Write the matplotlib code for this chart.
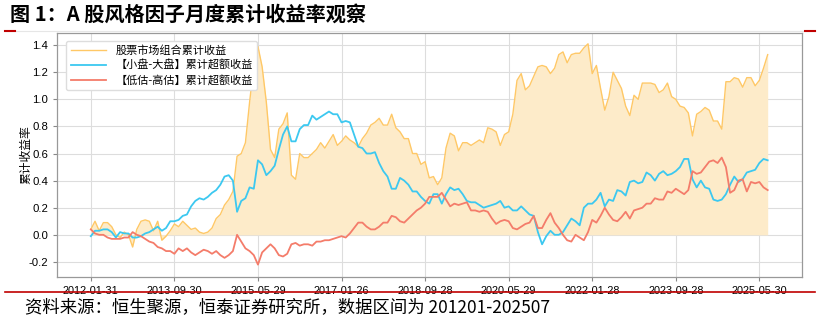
import matplotlib
matplotlib.use("Agg")
import matplotlib.pyplot as plt
from matplotlib.lines import Line2D
import numpy as np

plt.rcParams['font.family'] = ['Noto Sans CJK SC', 'DejaVu Sans']
plt.rcParams['axes.unicode_minus'] = False

# monthly cumulative returns, 2012-01 .. 2025-07
market = [0.04, 0.10, 0.03, 0.09, 0.09, 0.06, 0.00, -0.02, 0.02, 0.00,
          -0.09, 0.04, 0.10, 0.11, 0.10, 0.03, 0.10, -0.04, -0.01, 0.03,
          0.08, 0.06, 0.10, 0.07, 0.04, 0.05, 0.02, 0.01, 0.02, 0.05,
          0.12, 0.15, 0.22, 0.26, 0.32, 0.58, 0.60, 0.68, 0.98, 1.25,
          1.39, 1.24, 0.98, 0.63, 0.57, 0.78, 0.82, 0.90, 0.44, 0.41,
          0.60, 0.57, 0.57, 0.60, 0.63, 0.68, 0.64, 0.69, 0.74, 0.66,
          0.69, 0.73, 0.70, 0.68, 0.65, 0.71, 0.75, 0.81, 0.83, 0.86,
          0.81, 0.81, 0.89, 0.79, 0.76, 0.71, 0.71, 0.60, 0.60, 0.52,
          0.54, 0.42, 0.43, 0.37, 0.42, 0.64, 0.75, 0.73, 0.62, 0.68,
          0.68, 0.66, 0.68, 0.70, 0.68, 0.79, 0.78, 0.76, 0.66, 0.74,
          0.76, 0.89, 1.14, 1.19, 1.07, 1.10, 1.17, 1.24, 1.25, 1.24,
          1.19, 1.23, 1.33, 1.35, 1.27, 1.33, 1.34, 1.34, 1.38, 1.41,
          1.19, 1.25, 1.08, 0.92, 1.02, 1.20, 1.14, 1.08, 0.95, 0.88,
          1.03, 1.00, 1.12, 1.12, 1.12, 1.11, 1.05, 1.07, 1.12, 1.02,
          1.00, 0.95, 0.94, 0.90, 0.73, 0.89, 0.91, 0.94, 0.92, 0.84,
          0.84, 0.78, 1.13, 1.13, 1.16, 1.15, 1.09, 1.16, 1.16, 1.10,
          1.14, 1.23, 1.33]

small_big = [-0.01, 0.03, 0.03, 0.04, 0.04, 0.02, -0.02, 0.02, 0.01, 0.01,
             -0.02, -0.02, -0.01, 0.01, 0.02, 0.04, 0.06, 0.03, 0.05, 0.10,
             0.10, 0.11, 0.14, 0.15, 0.21, 0.25, 0.27, 0.26, 0.28, 0.31,
             0.33, 0.37, 0.43, 0.44, 0.40, 0.17, 0.25, 0.27, 0.35, 0.34,
             0.55, 0.52, 0.44, 0.47, 0.51, 0.63, 0.74, 0.80, 0.69, 0.69,
             0.78, 0.81, 0.81, 0.88, 0.85, 0.87, 0.89, 0.91, 0.89, 0.89,
             0.83, 0.84, 0.83, 0.74, 0.65, 0.64, 0.60, 0.60, 0.61, 0.53,
             0.47, 0.43, 0.34, 0.34, 0.42, 0.40, 0.37, 0.32, 0.32, 0.28,
             0.25, 0.23, 0.30, 0.30, 0.23, 0.30, 0.35, 0.33, 0.34, 0.30,
             0.25, 0.24, 0.24, 0.22, 0.20, 0.21, 0.22, 0.23, 0.25, 0.20,
             0.21, 0.18, 0.18, 0.21, 0.18, 0.15, 0.14, 0.02, -0.07, -0.01,
             0.03, 0.00, 0.00, 0.02, 0.07, 0.12, 0.10, 0.07, 0.20, 0.23,
             0.23, 0.26, 0.31, 0.21, 0.26, 0.25, 0.33, 0.32, 0.29, 0.39,
             0.40, 0.38, 0.39, 0.46, 0.44, 0.40, 0.45, 0.47, 0.44, 0.45,
             0.47, 0.50, 0.56, 0.56, 0.41, 0.35, 0.40, 0.35, 0.34, 0.26,
             0.25, 0.26, 0.30, 0.37, 0.43, 0.39, 0.41, 0.46, 0.47, 0.48,
             0.53, 0.56, 0.55]

low_high = [0.04, 0.01, 0.00, 0.00, -0.02, -0.03, -0.03, -0.03, -0.02, -0.02,
            0.02, 0.00, -0.01, -0.03, -0.05, -0.06, -0.09, -0.10, -0.12, -0.12,
            -0.14, -0.10, -0.12, -0.10, -0.13, -0.15, -0.13, -0.11, -0.12, -0.14,
            -0.12, -0.15, -0.17, -0.15, -0.12, 0.00, -0.05, -0.10, -0.12, -0.15,
            -0.22, -0.13, -0.10, -0.07, -0.10, -0.15, -0.16, -0.14, -0.07, -0.06,
            -0.08, -0.07, -0.07, -0.08, -0.05, -0.05, -0.04, -0.04, -0.03, -0.02,
            -0.01, -0.02, 0.01, 0.05, 0.09, 0.09, 0.06, 0.04, 0.04, 0.06,
            0.09, 0.09, 0.14, 0.13, 0.10, 0.09, 0.12, 0.15, 0.18, 0.20,
            0.23, 0.28, 0.28, 0.28, 0.31, 0.26, 0.21, 0.23, 0.22, 0.23,
            0.24, 0.18, 0.18, 0.17, 0.18, 0.17, 0.12, 0.08, 0.10, 0.11,
            0.10, 0.05, 0.04, 0.06, 0.08, 0.09, 0.14, 0.05, 0.05, 0.11,
            0.16, 0.09, 0.05, 0.00, -0.04, -0.05, 0.00, -0.02, -0.04, 0.02,
            0.11, 0.09, 0.14, 0.20, 0.15, 0.11, 0.10, 0.13, 0.17, 0.12,
            0.18, 0.19, 0.20, 0.23, 0.23, 0.27, 0.26, 0.26, 0.32, 0.31,
            0.34, 0.32, 0.30, 0.33, 0.47, 0.45, 0.46, 0.50, 0.54, 0.55,
            0.53, 0.57, 0.50, 0.31, 0.33, 0.40, 0.41, 0.32, 0.39, 0.38,
            0.39, 0.35, 0.33]

tick_pos = [0, 20, 40, 60, 80, 100, 120, 140, 160]
tick_labels = ['2012-01-31', '2013-09-30', '2015-05-29', '2017-01-26',
               '2018-09-28', '2020-05-29', '2022-01-28', '2023-09-28',
               '2025-05-30']

labels = ['股票市场组合累计收益', '【小盘-大盘】累计超额收益', '【低估-高估】累计超额收益']

x = np.arange(len(market))

fig = plt.figure(figsize=(8.2, 3.23), dpi=100)
ax = fig.add_axes([0.0695, 0.143, 0.9085, 0.755])

ax.fill_between(x, 0, market, color='#FDEBC9', lw=0)
ax.plot(x, market, color='#FFC866', lw=1.0, label=labels[0])
ax.plot(x, small_big, color='#3CC8F0', lw=1.3, label=labels[1])
ax.plot(x, low_high, color='#F47C6A', lw=1.3, label=labels[2])

ax.set_xlim(-8.1, 170.2)
ax.set_ylim(-0.31, 1.49)
ax.set_yticks(np.arange(-0.2, 1.41, 0.2))
ax.set_yticklabels(['%.1f' % v for v in np.arange(-0.2, 1.41, 0.2)])
ax.set_xticks(tick_pos)
ax.set_xticklabels(tick_labels)
ax.tick_params(axis='x', labelsize=7.8, length=3, color='#888888')
ax.tick_params(axis='y', labelsize=8.2, length=3, color='#888888')
for t in ax.get_xticklabels() + ax.get_yticklabels():
    t.set_family(['Liberation Sans', 'DejaVu Sans'])
ax.grid(True, color='#DDDDDD', lw=0.8)
ax.set_axisbelow(True)
for s in ax.spines.values():
    s.set_color('#999999')
    s.set_linewidth(0.9)
ax.set_ylabel('累计收益率', fontsize=8.5)
ax.yaxis.set_label_coords(-0.033, 0.5)

ax.legend(loc='upper left', fontsize=8, frameon=True, framealpha=1,
          edgecolor='#DDDDDD', borderpad=0.4, labelspacing=0.35,
          handlelength=3.2, bbox_to_anchor=(0.005, 0.99))

# header and footer
fig.text(0.012, 0.955, '图 1：A 股风格因子月度累计收益率观察', fontsize=14.5,
         fontweight='bold', va='center', ha='left')
fig.add_artist(Line2D([0.006, 0.994], [0.905, 0.905], color='#E6E6E6', lw=0.8))
fig.add_artist(Line2D([0.006, 0.018], [0.905, 0.905], color='#C00000', lw=1.5))
fig.add_artist(Line2D([0.982, 0.994], [0.905, 0.905], color='#C00000', lw=1.5))
fig.add_artist(Line2D([0.006, 0.994], [0.097, 0.097], color='#C00000', lw=1.2))
fig.text(0.03, 0.05, '资料来源：恒生聚源，恒泰证券研究所，数据区间为 201201-202507',
         fontsize=12.5, style='italic', va='center', ha='left')

fig.savefig('out.png', dpi=100)
